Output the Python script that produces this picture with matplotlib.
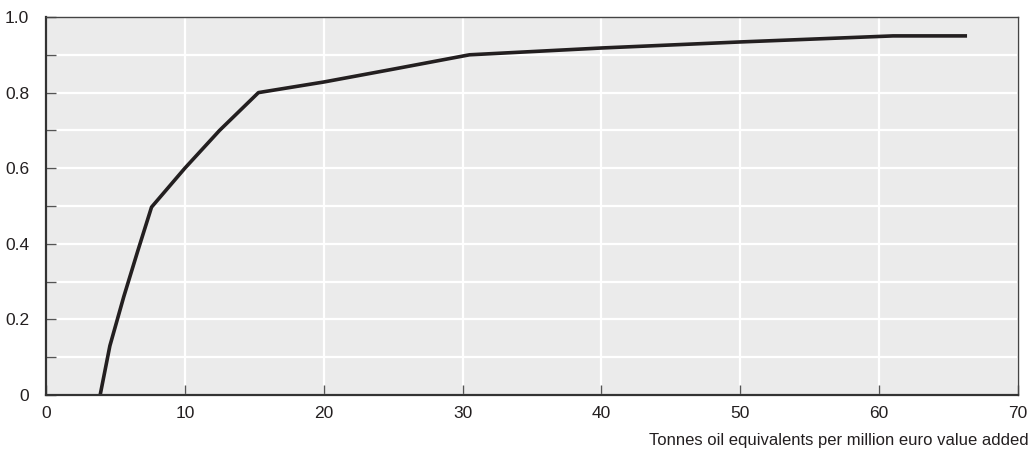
import matplotlib
matplotlib.use("Agg")
import matplotlib.pyplot as plt
from matplotlib.ticker import MultipleLocator

plt.rcParams['font.family'] = ['Liberation Sans', 'DejaVu Sans']

# cumulative share vs energy intensity
intensity = [3.9, 4.6, 5.6, 6.6, 7.6, 10.0, 12.5, 15.3, 20.0, 25.0, 30.5,
             40.0, 50.0, 61.0, 66.2]
share = [0.0, 0.13, 0.26, 0.38, 0.497, 0.60, 0.70, 0.80, 0.828, 0.862, 0.90,
         0.918, 0.934, 0.95, 0.95]

y_ticks = [0, 0.2, 0.4, 0.6, 0.8, 1.0]
y_labels = ["0", "0.2", "0.4", "0.6", "0.8", "1.0"]
x_ticks = [0, 10, 20, 30, 40, 50, 60, 70]

fig = plt.figure(figsize=(10.33, 4.54), dpi=100)
ax = fig.add_axes([46/1033, 59/454, 972/1033, 378/454])
ax.set_facecolor('#ebebeb')

ax.plot(intensity, share, color='#231f20', linewidth=2.6, solid_joinstyle='round')

ax.set_xlim(0, 70)
ax.set_ylim(0, 1.0)
ax.set_xticks(x_ticks)
ax.set_yticks(y_ticks)
ax.set_yticklabels(y_labels)
ax.yaxis.set_minor_locator(MultipleLocator(0.1))

ax.grid(True, which='both', axis='y', color='white', linewidth=1.6)
ax.grid(True, which='major', axis='x', color='white', linewidth=1.6)
ax.set_axisbelow(True)

ax.tick_params(axis='both', which='both', direction='in', length=7, width=1,
               color='#555555', labelsize=12.5, labelcolor='#231f20')
ax.tick_params(axis='y', which='major', pad=12)
ax.tick_params(axis='x', which='major', pad=8)
ax.tick_params(top=False, right=False)

for side in ['left', 'bottom']:
    ax.spines[side].set_linewidth(1.6)
    ax.spines[side].set_color('#333333')
for side in ['top', 'right']:
    ax.spines[side].set_linewidth(1.0)
    ax.spines[side].set_color('#444444')

fig.text(1029/1033, 6/454, "Tonnes oil equivalents per million euro value added",
         ha='right', va='bottom', fontsize=12, color='#231f20')

fig.savefig("out.png", dpi=100)
